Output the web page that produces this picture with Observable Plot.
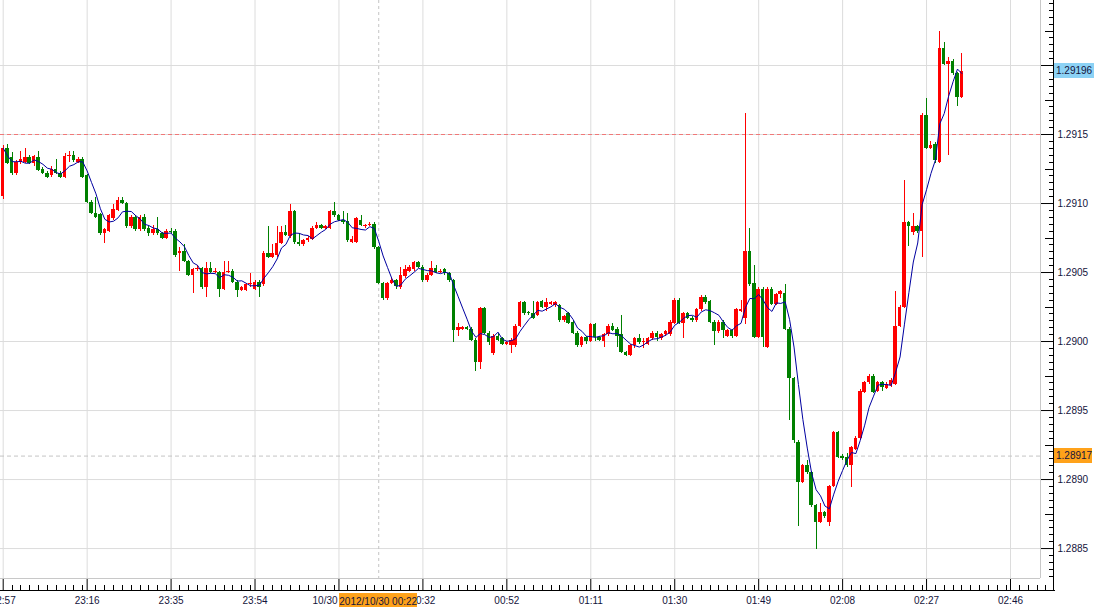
<!DOCTYPE html>
<html><head><meta charset="utf-8">
<script src="https://cdn.jsdelivr.net/npm/d3@7"></script>
<script src="https://cdn.jsdelivr.net/npm/@observablehq/plot@0.6"></script>
<style>
html,body{margin:0;padding:0;background:#fff;}
#chart{position:relative;width:1095px;height:607px;overflow:hidden;}
</style></head><body><div id="chart"></div>
<script>
const opens = [1.29105,1.29140,1.29133,1.29122,1.29130,1.29130,1.29133,1.29129,1.29133,1.29125,
1.29122,1.29120,1.29125,1.29122,1.29119,1.29134,1.29135,1.29130,1.29132,1.29120,
1.29101,1.29093,1.29092,1.29078,1.29080,1.29089,1.29095,1.29102,1.29100,1.29083,
1.29090,1.29081,1.29090,1.29082,1.29078,1.29081,1.29078,1.29075,1.29080,1.29080,
1.29064,1.29065,1.29058,1.29048,1.29052,1.29053,1.29039,1.29053,1.29050,1.29050,
1.29038,1.29050,1.29051,1.29043,1.29037,1.29037,1.29041,1.29038,1.29043,1.29041,
1.29064,1.29061,1.29062,1.29071,1.29079,1.29076,1.29094,1.29072,1.29070,1.29073,
1.29074,1.29082,1.29084,1.29082,1.29082,1.29094,1.29091,1.29088,1.29087,1.29072,
1.29072,1.29088,1.29083,1.29084,1.29085,1.29068,1.29042,1.29031,1.29042,1.29044,
1.29039,1.29047,1.29051,1.29052,1.29057,1.29054,1.29044,1.29048,1.29053,1.29050,
1.29052,1.29049,1.29044,1.29008,1.29009,1.29010,1.29009,1.29001,1.28985,1.29024,
1.29006,1.28991,1.29004,1.29002,1.28998,1.28997,1.28997,1.29011,1.29028,1.29021,
1.29020,1.29019,1.29029,1.29025,1.29027,1.29026,1.29026,1.29015,1.29020,1.29014,
1.29006,1.28997,1.29003,1.29000,1.29012,1.29003,1.29000,1.29005,1.29011,1.29009,
1.29005,1.28992,1.28990,1.28997,1.29002,1.28999,1.28998,1.29002,1.29006,1.29002,
1.29005,1.29005,1.29013,1.29030,1.29013,1.29020,1.29017,1.29015,1.29023,1.29032,
1.29029,1.29014,1.29007,1.29014,1.29004,1.29008,1.29004,1.29022,1.29017,1.29065,
1.29042,1.29003,1.29038,1.28996,1.29038,1.29027,1.29034,1.29035,1.29009,1.28973,
1.28927,1.28898,1.28910,1.28905,1.28881,1.28869,1.28876,1.28869,1.28895,1.28934,
1.28917,1.28916,1.28910,1.28922,1.28930,1.28963,1.28970,1.28975,1.28964,1.28970,
1.28966,1.28968,1.28969,1.29011,1.29025,1.29086,1.29079,1.29083,1.29080,1.29164,
1.29140,1.29143,1.29130,1.29212,1.29201,1.29203,1.29194,1.29177];
const highs = [1.29142,1.29143,1.29137,1.29131,1.29138,1.29140,1.29135,1.29135,1.29138,1.29126,
1.29123,1.29127,1.29132,1.29123,1.29136,1.29138,1.29138,1.29133,1.29133,1.29121,
1.29102,1.29104,1.29093,1.29082,1.29092,1.29099,1.29104,1.29104,1.29101,1.29091,
1.29091,1.29091,1.29092,1.29083,1.29084,1.29090,1.29079,1.29081,1.29082,1.29081,
1.29068,1.29070,1.29059,1.29053,1.29055,1.29054,1.29057,1.29057,1.29053,1.29051,
1.29058,1.29058,1.29052,1.29044,1.29040,1.29042,1.29049,1.29044,1.29044,1.29065,
1.29083,1.29070,1.29083,1.29083,1.29084,1.29099,1.29095,1.29078,1.29074,1.29076,
1.29083,1.29086,1.29085,1.29084,1.29095,1.29101,1.29092,1.29094,1.29093,1.29076,
1.29090,1.29091,1.29085,1.29086,1.29086,1.29069,1.29043,1.29043,1.29046,1.29045,
1.29054,1.29055,1.29055,1.29058,1.29058,1.29055,1.29049,1.29058,1.29055,1.29052,
1.29053,1.29050,1.29045,1.29013,1.29011,1.29011,1.29010,1.29002,1.29025,1.29025,
1.29007,1.29005,1.29006,1.29003,1.29000,1.29002,1.29012,1.29029,1.29029,1.29022,
1.29029,1.29029,1.29030,1.29031,1.29029,1.29029,1.29027,1.29019,1.29021,1.29015,
1.29007,1.29004,1.29004,1.29013,1.29013,1.29004,1.29006,1.29012,1.29013,1.29010,
1.29019,1.28993,1.28998,1.29003,1.29005,1.29002,1.29003,1.29007,1.29007,1.29006,
1.29008,1.29015,1.29031,1.29031,1.29021,1.29021,1.29018,1.29024,1.29033,1.29033,
1.29030,1.29015,1.29015,1.29015,1.29009,1.29009,1.29024,1.29030,1.29165,1.29082,
1.29055,1.29039,1.29039,1.29039,1.29039,1.29035,1.29037,1.29041,1.29010,1.28974,
1.28928,1.28911,1.28914,1.28906,1.28882,1.28883,1.28877,1.28896,1.28935,1.28935,
1.28918,1.28919,1.28924,1.28931,1.28965,1.28971,1.28976,1.28976,1.28971,1.28971,
1.28970,1.28973,1.29036,1.29026,1.29117,1.29087,1.29093,1.29084,1.29165,1.29176,
1.29145,1.29144,1.29225,1.29217,1.29206,1.29204,1.29195,1.29209];
const lows = [1.29103,1.29128,1.29120,1.29120,1.29128,1.29129,1.29128,1.29127,1.29123,1.29121,
1.29118,1.29119,1.29121,1.29118,1.29118,1.29130,1.29130,1.29129,1.29118,1.29100,
1.29092,1.29089,1.29077,1.29071,1.29079,1.29088,1.29094,1.29099,1.29082,1.29082,
1.29080,1.29080,1.29080,1.29076,1.29077,1.29077,1.29074,1.29074,1.29078,1.29061,
1.29051,1.29057,1.29047,1.29035,1.29051,1.29038,1.29032,1.29049,1.29049,1.29032,
1.29037,1.29049,1.29042,1.29032,1.29036,1.29036,1.29039,1.29037,1.29032,1.29040,
1.29060,1.29060,1.29061,1.29070,1.29076,1.29075,1.29070,1.29069,1.29069,1.29072,
1.29073,1.29081,1.29081,1.29081,1.29081,1.29090,1.29087,1.29085,1.29072,1.29071,
1.29071,1.29083,1.29082,1.29083,1.29067,1.29041,1.29030,1.29030,1.29041,1.29038,
1.29038,1.29046,1.29050,1.29051,1.29053,1.29043,1.29043,1.29047,1.29049,1.29049,
1.29048,1.29043,1.28999,1.29004,1.29008,1.29008,1.29000,1.28978,1.28980,1.29005,
1.28997,1.28990,1.29000,1.28997,1.28997,1.28991,1.28996,1.29010,1.29019,1.29019,
1.29016,1.29018,1.29024,1.29022,1.29026,1.29025,1.29014,1.29014,1.29012,1.29005,
1.28996,1.28996,1.28998,1.28999,1.29000,1.29000,1.28996,1.29004,1.29007,1.28996,
1.28991,1.28989,1.28989,1.28995,1.28998,1.28995,1.28997,1.29001,1.29000,1.29001,
1.29004,1.29004,1.29012,1.29012,1.29002,1.29016,1.29014,1.29014,1.29022,1.29027,
1.29013,1.28997,1.29006,1.29002,1.29003,1.29002,1.29003,1.29021,1.29012,1.29040,
1.29002,1.29002,1.28996,1.28995,1.29026,1.29026,1.29031,1.29008,1.28943,1.28926,
1.28866,1.28897,1.28904,1.28880,1.28849,1.28868,1.28872,1.28866,1.28894,1.28915,
1.28914,1.28909,1.28894,1.28921,1.28929,1.28962,1.28969,1.28962,1.28963,1.28964,
1.28965,1.28967,1.28968,1.29010,1.29024,1.29069,1.29077,1.29078,1.29061,1.29139,
1.29139,1.29129,1.29129,1.29200,1.29135,1.29193,1.29170,1.29176];
const closes = [1.29140,1.29129,1.29122,1.29130,1.29132,1.29133,1.29129,1.29134,1.29124,1.29122,
1.29119,1.29125,1.29122,1.29119,1.29134,1.29135,1.29131,1.29132,1.29119,1.29101,
1.29093,1.29090,1.29078,1.29081,1.29091,1.29096,1.29102,1.29100,1.29083,1.29090,
1.29081,1.29090,1.29081,1.29078,1.29081,1.29078,1.29075,1.29080,1.29079,1.29062,
1.29065,1.29058,1.29048,1.29052,1.29053,1.29039,1.29053,1.29050,1.29051,1.29038,
1.29050,1.29051,1.29043,1.29037,1.29039,1.29041,1.29042,1.29043,1.29039,1.29064,
1.29061,1.29064,1.29071,1.29079,1.29077,1.29094,1.29072,1.29070,1.29073,1.29075,
1.29082,1.29084,1.29082,1.29083,1.29094,1.29091,1.29088,1.29086,1.29073,1.29074,
1.29089,1.29084,1.29084,1.29085,1.29068,1.29042,1.29031,1.29042,1.29044,1.29040,
1.29048,1.29052,1.29054,1.29057,1.29054,1.29044,1.29048,1.29053,1.29050,1.29051,
1.29049,1.29044,1.29008,1.29010,1.29010,1.29009,1.29001,1.28985,1.29024,1.29006,
1.28999,1.29004,1.29001,1.28998,1.28999,1.29001,1.29011,1.29028,1.29020,1.29020,
1.29017,1.29028,1.29025,1.29028,1.29028,1.29028,1.29015,1.29018,1.29013,1.29006,
1.28997,1.29003,1.29000,1.29012,1.29003,1.29001,1.29005,1.29011,1.29008,1.29004,
1.28992,1.28990,1.28997,1.29002,1.28999,1.29000,1.29002,1.29006,1.29003,1.29005,
1.29007,1.29014,1.29030,1.29013,1.29020,1.29017,1.29015,1.29023,1.29032,1.29028,
1.29014,1.29007,1.29014,1.29008,1.29008,1.29004,1.29023,1.29023,1.29065,1.29041,
1.29003,1.29038,1.29003,1.29038,1.29027,1.29034,1.29036,1.29009,1.28973,1.28928,
1.28898,1.28910,1.28905,1.28881,1.28869,1.28876,1.28873,1.28895,1.28934,1.28916,
1.28915,1.28910,1.28923,1.28930,1.28964,1.28970,1.28975,1.28963,1.28970,1.28967,
1.28969,1.28972,1.29011,1.29025,1.29086,1.29083,1.29083,1.29080,1.29164,1.29140,
1.29142,1.29131,1.29212,1.29201,1.29203,1.29194,1.29177,1.29196];

const xTickIndex = [0,19,38,57,76,95,114,133,152,171,190,209,228];
const xTickLabels = ["22:57","23:16","23:35","23:54","10/30 00:13","00:32","00:52","01:11","01:30","01:49","02:08","02:27","02:46"];
const yTicks = [1.2885,1.2890,1.2895,1.2900,1.2905,1.2910,1.2915,1.2920];
const currentPrice = 1.29196;
const cursorPrice = 1.28917;
const alertPrice = 1.2915;
const cursorIndex = 85;
const cursorLabel = "2012/10/30 00:22";
const maPeriod = 5;

const UP = "#ff0000", DOWN = "#008000", GRID = "#dcdcdc", INK = "#14143c";
const FONT = "'Liberation Sans', Arial, sans-serif";

const bars = opens.map((o, i) => ({i, open: o, high: highs[i], low: lows[i], close: closes[i]}));
const upBars = bars.filter(d => d.close >= d.open);
const downBars = bars.filter(d => d.close < d.open);

// the current-price tag covers the label of the tick it sits on
const hiddenYLabel = yTicks.find(v => Math.abs(v - currentPrice) < 0.0001);

const chart = Plot.plot({
  width: 1095, height: 607,
  marginLeft: 0, marginRight: 55, marginTop: 0, marginBottom: 29,
  x: {type: "linear", domain: [-0.611, 234.79]},
  y: {type: "linear", domain: [1.288283, 1.292471]},
  style: {fontFamily: FONT, fontSize: "10px", background: "#fff", color: INK, overflow: "visible"},
  marks: [
    Plot.ruleY(yTicks, {stroke: GRID, strokeWidth: 1}),
    Plot.ruleX(xTickIndex, {stroke: GRID, strokeWidth: 1}),
    Plot.ruleX([cursorIndex], {stroke: "#c4c4c4", strokeDasharray: "3,3"}),
    Plot.ruleY([cursorPrice], {stroke: "#c4c4c4", strokeDasharray: "4,3"}),
    Plot.ruleY([alertPrice], {stroke: "#f07878", strokeDasharray: "4,3"}),
    Plot.ruleX(upBars, {x: "i", y1: "low", y2: "high", stroke: UP, strokeWidth: 1, shapeRendering: "crispEdges"}),
    Plot.ruleX(downBars, {x: "i", y1: "low", y2: "high", stroke: DOWN, strokeWidth: 1, shapeRendering: "crispEdges"}),
    Plot.rect(upBars, {x1: d => d.i - 0.4, x2: d => d.i + 0.4, y1: "open", y2: "close", fill: UP, shapeRendering: "crispEdges"}),
    Plot.rect(downBars, {x1: d => d.i - 0.4, x2: d => d.i + 0.4, y1: "close", y2: "open", fill: DOWN, shapeRendering: "crispEdges"}),
    Plot.line(bars, Plot.windowY({k: maPeriod, anchor: "end", reduce: "mean"}, {x: "i", y: "close", stroke: "#0000a0", strokeWidth: 1})),
    Plot.axisX({anchor: "bottom", ticks: xTickIndex, tickFormat: d => xTickLabels[xTickIndex.indexOf(d)], tickSize: 12, tickPadding: 6, label: null, stroke: "#000"}),
    Plot.axisY({anchor: "right", ticks: yTicks, tickFormat: d => d === hiddenYLabel ? "" : d.toFixed(4), tickSize: 13, tickPadding: 4, label: null, stroke: "#000"})
  ]
});
document.getElementById("chart").appendChild(chart);

// axis decorations placed through the plot's own scales
const xs = chart.scale("x"), ys = chart.scale("y");
const svg = d3.select(chart);
const right = xs.apply(xs.domain[1]);
const bottom = ys.apply(ys.domain[0]);
const g = svg.append("g").attr("shape-rendering", "crispEdges");
// frame edges
g.append("line").attr("x1", right + 0.5).attr("x2", right + 0.5).attr("y1", 0).attr("y2", bottom).attr("stroke", "#c8c8c8");
g.append("line").attr("x1", 0).attr("x2", right).attr("y1", bottom + 0.5).attr("y2", bottom + 0.5).attr("stroke", "#c8c8c8");
// axis lines
g.append("line").attr("x1", right + 13.5).attr("x2", right + 13.5).attr("y1", 0).attr("y2", bottom + 12).attr("stroke", "#000");
g.append("line").attr("x1", 0).attr("x2", right + 15).attr("y1", bottom + 12.5).attr("y2", bottom + 12.5).attr("stroke", "#000");
// minor y ticks
for (let k = Math.ceil(ys.domain[0] / 0.00005); k * 0.00005 <= ys.domain[1]; k++) {
  const v = k * 0.00005;
  if (k % 10 === 0) continue;
  const len = (k % 5 === 0) ? 9 : 5;
  const py = Math.round(ys.apply(v)) + 0.5;
  g.append("line").attr("x1", right + 13.5 - len).attr("x2", right + 13.5).attr("y1", py).attr("y2", py).attr("stroke", "#000");
}
// minor x ticks
xTickIndex.forEach(t => {
  for (let j = 2; j < 19; j += 2) {
    const px = Math.round(xs.apply(t + j)) + 0.5;
    if (px > right + 14) continue;
    g.append("line").attr("x1", px).attr("x2", px).attr("y1", bottom + 12).attr("y2", bottom + 7).attr("stroke", "#000");
  }
});
// price labels
function priceTag(v, fill, w) {
  const py = ys.apply(v);
  g.append("rect").attr("x", right + 14).attr("y", py - 7.5).attr("width", w).attr("height", 15).attr("fill", fill);
  svg.append("text").attr("x", right + 16).attr("y", py).attr("dy", "0.35em").attr("text-anchor", "start")
    .attr("font-size", 10).attr("font-family", FONT).attr("fill", INK).text(v.toFixed(5));
}
priceTag(currentPrice, "#8cd2f5", 40);
priceTag(cursorPrice, "#ffa21a", 38);
// time cursor label
const cx = xs.apply(cursorIndex);
g.append("rect").attr("x", cx - 39).attr("y", bottom + 15).attr("width", 78).attr("height", 15).attr("fill", "#ffa21a");
svg.append("text").attr("x", cx).attr("y", bottom + 23).attr("dy", "0.35em").attr("text-anchor", "middle")
  .attr("font-size", 10).attr("font-family", FONT).attr("fill", INK).text(cursorLabel);
</script>
</body></html>
